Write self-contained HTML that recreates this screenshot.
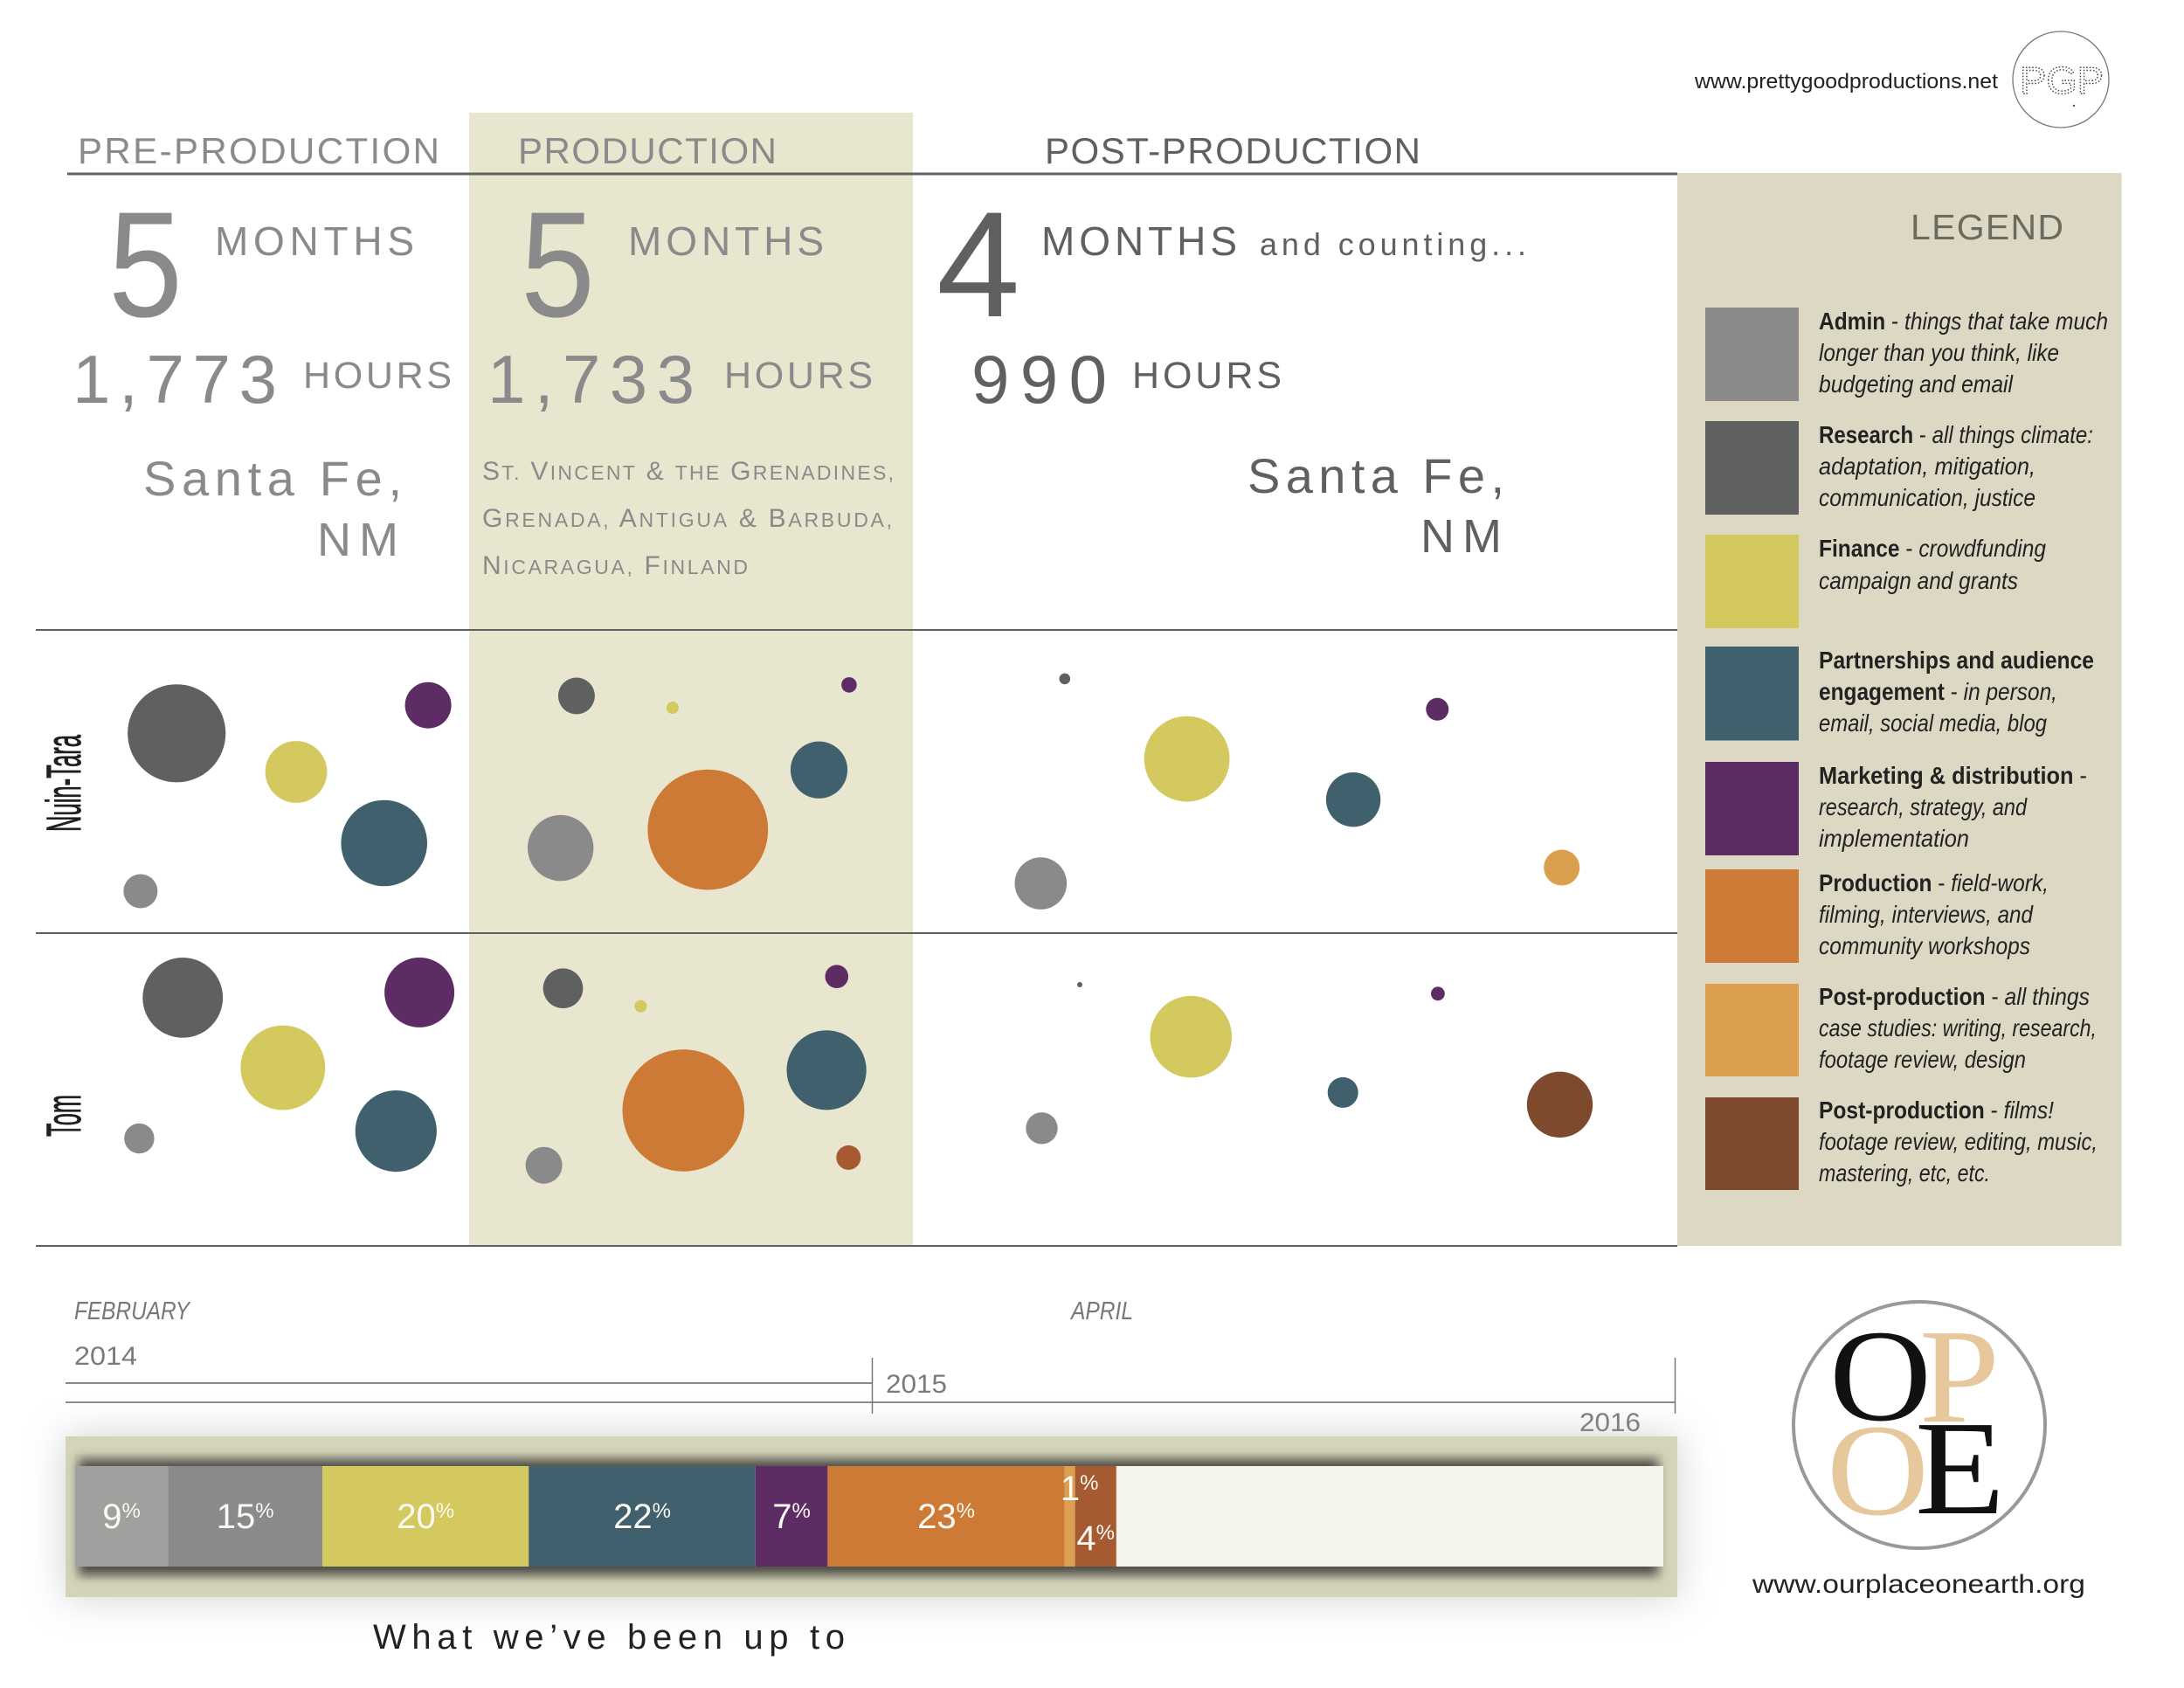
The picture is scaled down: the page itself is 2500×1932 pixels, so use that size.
<!DOCTYPE html>
<html lang="en">
<head>
<meta charset="utf-8">
<title>Our Place On Earth - What we've been up to</title>
<style>
html,body{margin:0;padding:0;background:#fff;width:2500px;height:1932px;overflow:hidden}
svg{display:block}
text{font-family:"Liberation Sans",sans-serif}
.gl{fill:#8a8a8a}
.dk{fill:#5f6060}
.lg{fill:#222;font-size:27.5px}
.lg tspan.b{font-weight:700}
.lg tspan.i{font-style:italic}
.yr{fill:#7a7a7a;font-size:30px}
.mo{fill:#777;font-size:29px;font-style:italic}
</style>
</head>
<body>
<svg id="page" xmlns="http://www.w3.org/2000/svg" width="2500" height="1932" viewBox="0 0 2500 1932">
<defs>
<filter id="softShadow" x="-10%" y="-60%" width="120%" height="220%"><feGaussianBlur stdDeviation="22"/></filter>
<filter id="innerShadow" x="-5%" y="-30%" width="110%" height="160%"><feGaussianBlur stdDeviation="6"/></filter>
</defs>
<rect x="0" y="0" width="2500" height="1932" fill="#fff"/>

<text x="1940" y="101" font-size="24" fill="#222" textLength="347" lengthAdjust="spacingAndGlyphs">www.prettygoodproductions.net</text>
<circle cx="2359" cy="91" r="55" fill="none" stroke="#777" stroke-width="1.3"/>
<text x="2312" y="107" font-size="44" fill="none" stroke="#444" stroke-width="1.4" stroke-dasharray="1.5 2" textLength="96" lengthAdjust="spacingAndGlyphs">PGP</text>
<circle cx="2374" cy="121" r="1.2" fill="#555"/>

<rect x="537" y="129" width="508" height="1297" fill="#e8e6cf"/>

<text class="gl" x="89" y="187" font-size="42" textLength="414">PRE-PRODUCTION</text>
<text class="gl" x="593" y="187" font-size="42" textLength="296">PRODUCTION</text>
<text class="dk" x="1196" y="187" font-size="42" textLength="430">POST-PRODUCTION</text>
<line x1="77" y1="199" x2="1920" y2="199" stroke="#5f6060" stroke-width="3"/>

<text class="gl" x="124" y="362" font-size="172" textLength="85" lengthAdjust="spacingAndGlyphs">5</text>
<text class="gl" x="246" y="292" font-size="46" textLength="228">MONTHS</text>
<text class="gl" x="83" y="461" font-size="78" textLength="234">1,773</text>
<text class="gl" x="347" y="444" font-size="43" textLength="170">HOURS</text>
<text class="gl" x="164" y="567" font-size="56" textLength="296">Santa Fe,</text>
<text class="gl" x="363" y="636" font-size="54" textLength="93">NM</text>

<text class="gl" x="596" y="362" font-size="172" textLength="85" lengthAdjust="spacingAndGlyphs">5</text>
<text class="gl" x="719" y="292" font-size="46" textLength="224">MONTHS</text>
<text class="gl" x="558" y="461" font-size="78" textLength="237">1,733</text>
<text class="gl" x="829" y="444" font-size="43" textLength="170">HOURS</text>
<text class="gl" x="552" y="549" font-size="30" textLength="471">S<tspan font-size="23">T.</tspan> V<tspan font-size="23">INCENT</tspan> &amp; <tspan font-size="23">THE</tspan> G<tspan font-size="23">RENADINES,</tspan></text>
<text class="gl" x="552" y="603" font-size="30" textLength="469">G<tspan font-size="23">RENADA,</tspan> A<tspan font-size="23">NTIGUA</tspan> &amp; B<tspan font-size="23">ARBUDA,</tspan></text>
<text class="gl" x="552" y="657" font-size="30" textLength="304">N<tspan font-size="23">ICARAGUA,</tspan> F<tspan font-size="23">INLAND</tspan></text>

<text class="dk" x="1072" y="362" font-size="172">4</text>
<text class="dk" x="1192" y="292" font-size="46" textLength="224">MONTHS</text>
<text class="dk" x="1442" y="292" font-size="36" textLength="305">and counting...</text>
<text class="dk" x="1112" y="461" font-size="78" textLength="155">990</text>
<text class="dk" x="1296" y="444" font-size="43" textLength="171">HOURS</text>
<text class="dk" x="1428" y="564" font-size="56" textLength="294">Santa Fe,</text>
<text class="dk" x="1626" y="632" font-size="54" textLength="93">NM</text>

<line x1="41" y1="721" x2="1920" y2="721" stroke="#5f6060" stroke-width="2"/>
<line x1="41" y1="1068" x2="1920" y2="1068" stroke="#5f6060" stroke-width="2"/>
<line x1="41" y1="1426" x2="1920" y2="1426" stroke="#5f6060" stroke-width="2"/>

<text transform="translate(92 952) rotate(-90)" font-size="56" fill="#1f1f1f" stroke="#1f1f1f" stroke-width="1" textLength="111" lengthAdjust="spacingAndGlyphs">Nuin-Tara</text>
<text transform="translate(92 1301) rotate(-90)" font-size="56" fill="#1f1f1f" stroke="#1f1f1f" stroke-width="1" textLength="48" lengthAdjust="spacingAndGlyphs">Tom</text>

<g id="bubbles"></g>

<g>
<rect x="1920" y="198" width="508.5" height="1228" fill="#ddd8c4"/>
<text x="2187" y="274" font-size="41" fill="#6b6a5f" textLength="175">LEGEND</text>

<rect x="1952" y="352" width="107" height="107" fill="#8a8a8a"/>
<text class="lg" x="2082" y="377" textLength="331" lengthAdjust="spacingAndGlyphs"><tspan class="b">Admin</tspan> - <tspan class="i">things that take much</tspan></text>
<text class="lg" x="2082" y="413" textLength="275" lengthAdjust="spacingAndGlyphs" font-style="italic">longer than you think, like</text>
<text class="lg" x="2082" y="449" textLength="222" lengthAdjust="spacingAndGlyphs" font-style="italic">budgeting and email</text>

<rect x="1952" y="482" width="107" height="107" fill="#5f6160"/>
<text class="lg" x="2082" y="507" textLength="314" lengthAdjust="spacingAndGlyphs"><tspan class="b">Research</tspan> - <tspan class="i">all things climate:</tspan></text>
<text class="lg" x="2082" y="543" textLength="248" lengthAdjust="spacingAndGlyphs" font-style="italic">adaptation, mitigation,</text>
<text class="lg" x="2082" y="579" textLength="248" lengthAdjust="spacingAndGlyphs" font-style="italic">communication, justice</text>

<rect x="1952" y="612" width="107" height="107" fill="#d3c95f"/>
<text class="lg" x="2082" y="637" textLength="260" lengthAdjust="spacingAndGlyphs"><tspan class="b">Finance</tspan> - <tspan class="i">crowdfunding</tspan></text>
<text class="lg" x="2082" y="674" textLength="228" lengthAdjust="spacingAndGlyphs" font-style="italic">campaign and grants</text>

<rect x="1952" y="740" width="107" height="107.5" fill="#3f606c"/>
<text class="lg" x="2082" y="765" textLength="315" lengthAdjust="spacingAndGlyphs" font-weight="700">Partnerships and audience</text>
<text class="lg" x="2082" y="801" textLength="273" lengthAdjust="spacingAndGlyphs"><tspan class="b">engagement</tspan> - <tspan class="i">in person,</tspan></text>
<text class="lg" x="2082" y="837" textLength="261" lengthAdjust="spacingAndGlyphs" font-style="italic">email, social media, blog</text>

<rect x="1952" y="872" width="107" height="107" fill="#5e2c65"/>
<text class="lg" x="2082" y="897" textLength="307" lengthAdjust="spacingAndGlyphs"><tspan class="b">Marketing &amp; distribution</tspan> -</text>
<text class="lg" x="2082" y="933" textLength="238" lengthAdjust="spacingAndGlyphs" font-style="italic">research, strategy, and</text>
<text class="lg" x="2082" y="969" textLength="172" lengthAdjust="spacingAndGlyphs" font-style="italic">implementation</text>

<rect x="1952" y="995" width="107" height="107" fill="#cc7a35"/>
<text class="lg" x="2082" y="1020" textLength="263" lengthAdjust="spacingAndGlyphs"><tspan class="b">Production</tspan> - <tspan class="i">field-work,</tspan></text>
<text class="lg" x="2082" y="1056" textLength="245" lengthAdjust="spacingAndGlyphs" font-style="italic">filming, interviews, and</text>
<text class="lg" x="2082" y="1092" textLength="242" lengthAdjust="spacingAndGlyphs" font-style="italic">community workshops</text>

<rect x="1952" y="1126" width="107" height="106" fill="#dc9f4f"/>
<text class="lg" x="2082" y="1150" textLength="310" lengthAdjust="spacingAndGlyphs"><tspan class="b">Post-production</tspan> - <tspan class="i">all things</tspan></text>
<text class="lg" x="2082" y="1186" textLength="318" lengthAdjust="spacingAndGlyphs" font-style="italic">case studies: writing, research,</text>
<text class="lg" x="2082" y="1222" textLength="237" lengthAdjust="spacingAndGlyphs" font-style="italic">footage review, design</text>

<rect x="1952" y="1256" width="107" height="106" fill="#7e4a2e"/>
<text class="lg" x="2082" y="1280" textLength="269" lengthAdjust="spacingAndGlyphs"><tspan class="b">Post-production</tspan> - <tspan class="i">films!</tspan></text>
<text class="lg" x="2082" y="1316" textLength="319" lengthAdjust="spacingAndGlyphs" font-style="italic">footage review, editing, music,</text>
<text class="lg" x="2082" y="1352" textLength="196" lengthAdjust="spacingAndGlyphs" font-style="italic">mastering, etc, etc.</text>
</g>

<g>
<text class="mo" x="85" y="1510" textLength="132" lengthAdjust="spacingAndGlyphs">FEBRUARY</text>
<text class="yr" x="85" y="1562" textLength="72" lengthAdjust="spacingAndGlyphs">2014</text>
<text class="mo" x="1226" y="1510" textLength="71" lengthAdjust="spacingAndGlyphs">APRIL</text>
<text class="yr" x="1014" y="1594" textLength="70" lengthAdjust="spacingAndGlyphs">2015</text>
<text class="yr" x="1808" y="1638" textLength="70" lengthAdjust="spacingAndGlyphs">2016</text>
<line x1="75" y1="1583" x2="998" y2="1583" stroke="#8a8a8a" stroke-width="2"/>
<line x1="75" y1="1605" x2="1917" y2="1605" stroke="#8a8a8a" stroke-width="2"/>
<line x1="998.5" y1="1554" x2="998.5" y2="1618" stroke="#777" stroke-width="1.5"/>
<line x1="1917.5" y1="1554" x2="1917.5" y2="1618" stroke="#777" stroke-width="1.5"/>
</g>

<g>
<rect x="75" y="1644" width="1845" height="184" fill="#aaaaaa" opacity=".55" filter="url(#softShadow)"/>
<rect x="75" y="1644" width="1845" height="184" fill="#d5d4ba"/>
<rect x="85.5" y="1664" width="1818.5" height="144" fill="#cfceb4"/>
<rect x="90" y="1670" width="1808" height="133" fill="#4e4e46" filter="url(#innerShadow)"/>
<rect x="86" y="1678" width="1818" height="115" fill="#f5f4ea"/>
<g id="bar"></g>
</g>

<text x="427" y="1887" font-size="40" fill="#222" textLength="540">What we’ve been up to</text>

<g>
<ellipse cx="2197" cy="1631" rx="144" ry="141" fill="#fff" stroke="#999" stroke-width="4"/>
<text x="2094" y="1625" font-size="150" fill="#111" textLength="117" lengthAdjust="spacingAndGlyphs" style="font-family:'Liberation Serif',serif">O</text>
<text x="2197" y="1627" font-size="154" fill="#e6c89c" textLength="92" lengthAdjust="spacingAndGlyphs" style="font-family:'Liberation Serif',serif">P</text>
<text x="2091" y="1733" font-size="150" fill="#e6c89c" textLength="117" lengthAdjust="spacingAndGlyphs" style="font-family:'Liberation Serif',serif">O</text>
<text x="2192" y="1732" font-size="154" fill="#111" textLength="103" lengthAdjust="spacingAndGlyphs" style="font-family:'Liberation Serif',serif">E</text>
</g>
<text x="2006" y="1823" font-size="30" fill="#222" textLength="381" lengthAdjust="spacingAndGlyphs">www.ourplaceonearth.org</text>
</svg>

<script>
// Stacked bar: share of total hours per activity
const barCategories = ['admin-light', 'admin', 'finance', 'partnerships', 'marketing', 'production', 'case-studies', 'footage'];
const barShares = [9, 15, 20, 22, 7, 23, 1, 4];

// Bubble chart: category, position along the timeline (0-100), lane position (0-100), hours
const nuinTaraCategories = ['research', 'finance', 'marketing', 'partnerships', 'admin',
  'research', 'finance', 'marketing', 'partnerships', 'production', 'admin',
  'research', 'finance', 'marketing', 'partnerships', 'case-studies', 'admin'];
const nuinTaraTimeline = [8.58, 15.86, 23.9, 21.22, 6.38,
  32.94, 38.79, 49.54, 47.71, 40.94, 31.97,
  62.68, 70.12, 85.38, 80.26, 92.96, 61.22];
const nuinTaraLane = [34.09, 46.83, 24.84, 70.32, 86.17,
  21.76, 25.65, 18.13, 46.17, 65.88, 71.93,
  16.11, 42.54, 26.17, 55.97, 78.39, 83.6];
const nuinTaraHours = [349.7, 139.2, 78, 270, 42.3,
  49, 5.4, 8.6, 118.1, 527.5, 157.9,
  4.4, 265.7, 18.8, 108.2, 46.7, 98.7];

const tomCategories = ['research', 'marketing', 'finance', 'partnerships', 'admin',
  'research', 'finance', 'marketing', 'partnerships', 'production', 'footage', 'admin',
  'research', 'finance', 'marketing', 'partnerships', 'films', 'admin'];
const tomTimeline = [8.95, 23.37, 15.05, 21.94, 6.3,
  32.12, 36.85, 48.79, 48.17, 39.45, 49.51, 30.95,
  63.6, 70.37, 85.41, 79.63, 92.84, 61.28];
const tomLane = [20.64, 18.97, 43.02, 63.3, 65.64,
  17.65, 23.38, 13.88, 43.8, 56.68, 71.76, 74.22,
  16.48, 33.13, 19.36, 50.95, 54.83, 62.37];
const tomHours = [234, 177.8, 260.3, 241.3, 32.9,
  57.8, 5.4, 19.7, 231, 541.4, 21.8, 49,
  1, 243.4, 6.9, 34, 157.9, 36.8];

const categoryColor = {
  'admin-light': '#a0a09f', 'admin': '#8a8a8a', 'research': '#5f6160', 'finance': '#d3c95f',
  'partnerships': '#3f606c', 'marketing': '#5e2c65', 'production': '#cc7a35',
  'case-studies': '#dc9f4f', 'films': '#7e4a2e', 'footage': '#a65a32'
};

const SVG_NS = 'http://www.w3.org/2000/svg';
const xTimeline = v => 41 + v * 18.79;
const yNuinTara = v => 721 + v * 3.47;
const yTom = v => 1068 + v * 3.58;
const rHours = v => 3 * Math.sqrt(v);
const xShare = v => 86 + v * 11.8;

const bubbleLayer = document.getElementById('bubbles');
function drawBubbles(person, cats, xs, lanes, hours, yScale) {
  cats.forEach((cat, i) => {
    const c = document.createElementNS(SVG_NS, 'circle');
    c.setAttribute('cx', xTimeline(xs[i]).toFixed(1));
    c.setAttribute('cy', yScale(lanes[i]).toFixed(1));
    c.setAttribute('r', rHours(hours[i]).toFixed(1));
    c.setAttribute('fill', categoryColor[cat]);
    
    
    bubbleLayer.appendChild(c);
  });
}
drawBubbles('nuin-tara', nuinTaraCategories, nuinTaraTimeline, nuinTaraLane, nuinTaraHours, yNuinTara);
drawBubbles('tom', tomCategories, tomTimeline, tomLane, tomHours, yTom);

const barLayer = document.getElementById('bar');
let cumulative = 0;
barShares.forEach((share, i) => {
  const x0 = xShare(cumulative);
  const x1 = xShare(cumulative + share);
  cumulative += share;

  const r = document.createElementNS(SVG_NS, 'rect');
  r.setAttribute('x', x0.toFixed(1));
  r.setAttribute('y', 1678);
  r.setAttribute('width', (x1 - x0).toFixed(1));
  r.setAttribute('height', 115);
  r.setAttribute('fill', categoryColor[barCategories[i]]);
  
  
  barLayer.appendChild(r);
});

cumulative = 0;
barShares.forEach((share, i) => {
  const center = (xShare(cumulative) + xShare(cumulative + share)) / 2;
  cumulative += share;
  // the two narrow segments stagger their labels so they stay readable
  const narrow = barCategories[i] === 'case-studies';
  const low = barCategories[i] === 'footage';
  const baseline = narrow ? 1717 : (low ? 1774 : 1749);

  const t = document.createElementNS(SVG_NS, 'text');
  t.setAttribute('x', (center + (narrow ? 11 : 0)).toFixed(1));
  t.setAttribute('y', baseline);
  t.setAttribute('text-anchor', 'middle');
  t.setAttribute('fill', '#fbfaf2');
  t.setAttribute('font-size', 40);
  
  
  t.appendChild(document.createTextNode(String(share)));

  const p = document.createElementNS(SVG_NS, 'tspan');
  p.setAttribute('font-size', 24);
  p.setAttribute('dy', -12);
  p.textContent = '%';
  t.appendChild(p);
  barLayer.appendChild(t);
});
</script>
</body>
</html>
